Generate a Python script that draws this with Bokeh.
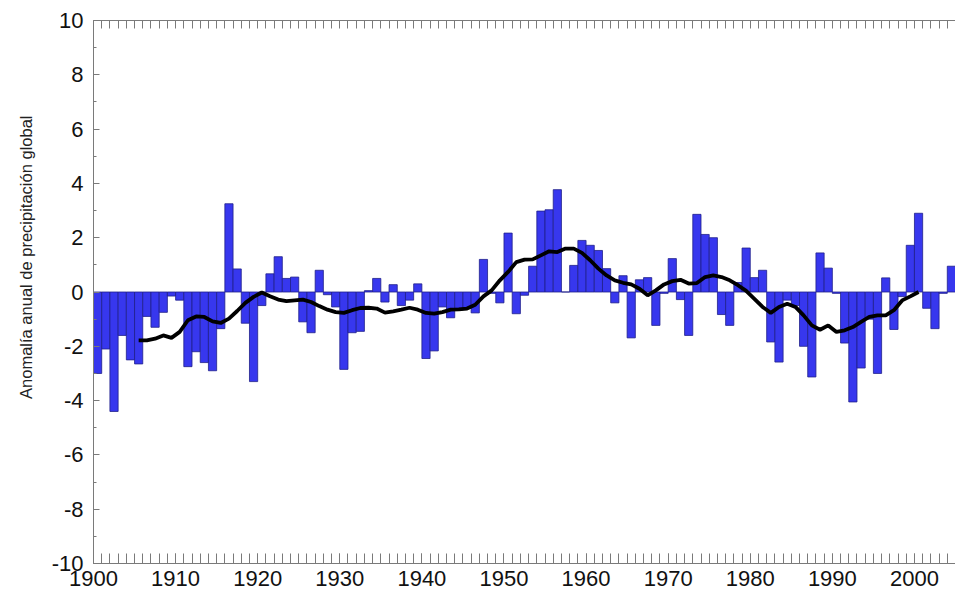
from bokeh.plotting import figure
from bokeh.models import FixedTicker, LinearAxis, Range1d, Title, ColumnDataSource, PrintfTickFormatter
from bokeh.embed import file_html
from bokeh.resources import INLINE

# ---- data ----
years = list(range(1900, 2005))
anomaly = [
    -3.0, -2.1, -4.4, -1.6, -2.5, -2.65, -0.9, -1.3, -0.75, -0.15,   # 1900-1909
    -0.3, -2.75, -2.2, -2.6, -2.9, -1.35, 3.25, 0.85, -1.15, -3.3,   # 1910-1919
    -0.5, 0.67, 1.3, 0.5, 0.55, -1.1, -1.5, 0.8, -0.1, -0.55,        # 1920-1929
    -2.85, -1.5, -1.45, 0.05, 0.5, -0.37, 0.27, -0.5, -0.3, 0.3,     # 1930-1939
    -2.45, -2.17, -0.55, -0.95, -0.6, -0.6, -0.77, 1.2, -0.05, -0.4, # 1940-1949
    2.17, -0.8, -0.12, 0.95, 2.98, 3.03, 3.77, 0.0, 0.98, 1.9,       # 1950-1959
    1.72, 1.53, 0.86, -0.4, 0.6, -1.69, 0.45, 0.53, -1.23, -0.05,    # 1960-1969
    1.23, -0.28, -1.6, 2.86, 2.12, 2.0, -0.83, -1.23, 0.35, 1.62,    # 1970-1979
    0.53, 0.8, -1.84, -2.58, -0.3, -0.5, -2.0, -3.13, 1.44, 0.88,    # 1980-1989
    -0.05, -1.88, -4.05, -2.8, -1.0, -3.0, 0.52, -1.38, -0.17, 1.72, # 1990-1999
    2.9, -0.6, -1.35, -0.05, 0.95,                                   # 2000-2004
]
smooth_years = list(range(1905, 2001))
smooth = [
    -1.78, -1.78, -1.72, -1.6, -1.69,                                # 1905-1909
    -1.47, -1.04, -0.9, -0.92, -1.08, -1.14, -0.98, -0.7, -0.4, -0.18,
    -0.02, -0.16, -0.28, -0.34, -0.31, -0.28, -0.37, -0.52, -0.65, -0.74,
    -0.77, -0.67, -0.59, -0.58, -0.61, -0.76, -0.71, -0.65, -0.58, -0.65,
    -0.77, -0.8, -0.74, -0.65, -0.64, -0.61, -0.47, -0.16, 0.06, 0.43,
    0.74, 1.1, 1.19, 1.2, 1.35, 1.5, 1.47, 1.6, 1.6, 1.44,
    1.17, 0.86, 0.61, 0.43, 0.34, 0.28, 0.12, -0.12, 0.06, 0.28,
    0.4, 0.45, 0.31, 0.33, 0.55, 0.61, 0.55, 0.43, 0.25, 0.04,
    -0.25, -0.55, -0.77, -0.55, -0.43, -0.55, -0.86, -1.23, -1.39, -1.23,
    -1.47, -1.41, -1.29, -1.1, -0.92, -0.86, -0.86, -0.67, -0.31, -0.16,
    0.0,
]
decade_ticks = list(range(1900, 2010, 10))
y_ticks = list(range(-10, 12, 2))
y_minor = list(range(-10, 11))
y_title = "Anomalía anual de precipitación global"

FONT = "Liberation Sans"
AX = "#7a7a7a"

bars = ColumnDataSource(dict(x=[y + 0.5 for y in years], top=anomaly))
line = ColumnDataSource(dict(x=[y + 0.5 for y in smooth_years], y=smooth))

p = figure(width=955, height=595, x_range=Range1d(1900, 2005), y_range=Range1d(-10, 10),
           output_backend="svg", toolbar_location=None, title=None,
           min_border_left=93, min_border_right=0, min_border_top=20, min_border_bottom=32)
p.outline_line_color = None
p.xgrid.visible = False
p.ygrid.visible = False
p.background_fill_color = "white"
p.border_fill_color = "white"

p.vbar(x="x", top="top", bottom=0, width=1.0, source=bars,
       fill_color="#3737ee", line_color="#20208a", line_width=0.8)
p.line(x="x", y="y", source=line, line_color="black", line_width=3.8)

xa = p.xaxis[0]
xa.ticker = FixedTicker(ticks=decade_ticks, minor_ticks=years + [2005])
ya = p.yaxis[0]
ya.ticker = FixedTicker(ticks=y_ticks, minor_ticks=y_minor)
ya.formatter = PrintfTickFormatter(format="%d")

for ax in (xa, ya):
    ax.axis_line_color = AX
    ax.major_tick_line_color = AX
    ax.minor_tick_line_color = AX
    ax.major_tick_out = 0
    ax.minor_tick_out = 0
    ax.major_label_text_font = FONT
    ax.major_label_text_font_size = "22px"
    ax.major_label_text_color = "#111111"

xa.major_tick_in = 10
xa.minor_tick_in = 10
xa.major_label_standoff = 7
ya.major_tick_in = 6
ya.minor_tick_in = 3
ya.major_label_standoff = 10

top = LinearAxis(ticker=FixedTicker(ticks=[], minor_ticks=years + [2005]),
                 major_label_standoff=0,
                 major_tick_in=8, minor_tick_in=8, major_tick_out=0, minor_tick_out=0,
                 axis_line_color=AX, major_tick_line_color=AX, minor_tick_line_color=AX)
p.add_layout(top, "above")

t = Title(text=y_title, align="right", offset=95, text_font=FONT, text_font_size="16.5px",
          text_font_style="normal", text_color="#222222", standoff=27)
p.add_layout(t, "left")

open("out.html", "w").write(file_html(p, INLINE))
